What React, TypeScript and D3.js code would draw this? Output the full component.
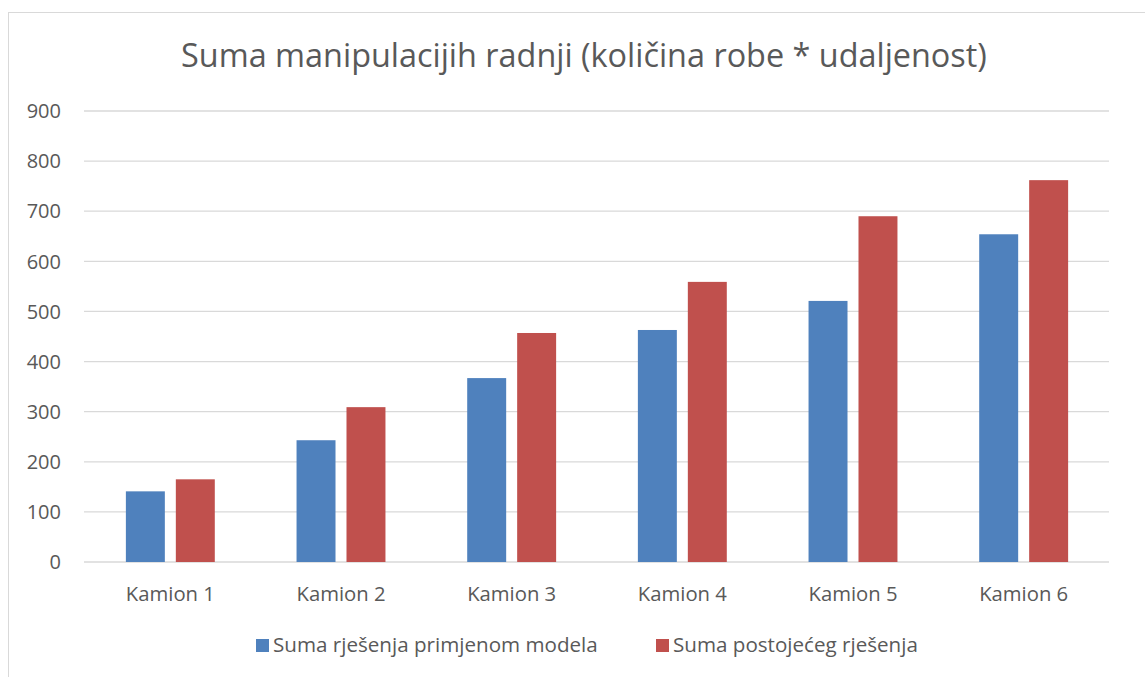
import React from "react";
import * as d3 from "d3";

const categories = ["Kamion 1", "Kamion 2", "Kamion 3", "Kamion 4", "Kamion 5", "Kamion 6"];
const seriesNames = ["Suma rješenja primjenom modela", "Suma postojećeg rješenja"];
const modelValues = [141, 243, 367, 463, 521, 654];
const existingValues = [165, 309, 457, 559, 690, 762];
const yTicks = [0, 100, 200, 300, 400, 500, 600, 700, 800, 900];
const colors = ["#4F81BD", "#C0504D"];

const W = 1145;
const H = 677;
const plot = { left: 85, right: 1109, top: 111, bottom: 562 };
const font = "'Open Sans', sans-serif";
const textColor = "#595959";

export default function App() {
  const series = [modelValues, existingValues];

  const x0 = d3
    .scaleBand<string>()
    .domain(categories)
    .range([plot.left, plot.right])
    .paddingInner(0.479)
    .paddingOuter(0.2395);

  const x1 = d3
    .scaleBand<number>()
    .domain([0, 1])
    .range([0, x0.bandwidth()])
    .paddingInner(0.22);

  const y = d3.scaleLinear().domain([0, 900]).range([plot.bottom, plot.top]);

  // legend swatch positions (x of each square)
  const legendX = [256, 656];

  return (
    <svg
      width={W}
      height={H}
      style={{ position: "absolute", left: 0, top: 0, background: "#fff" }}
    >
      {/* chart frame, cut off on the right and bottom */}
      <rect x={8.5} y={12.5} width={W} height={H} fill="#fff" stroke="#d9d9d9" />

      <text
        x={584}
        y={67}
        textAnchor="middle"
        fontFamily={font}
        fontSize={32.4}
        fill={textColor}
      >
        Suma manipulacijih radnji (količina robe * udaljenost)
      </text>

      {yTicks.map((t) => (
        <g key={t}>
          <line
            x1={plot.left - 1}
            x2={plot.right}
            y1={y(t)}
            y2={y(t)}
            stroke="#d9d9d9"
            strokeWidth={1.3}
          />
          <text
            x={61}
            y={y(t)}
            dy="0.36em"
            textAnchor="end"
            fontFamily={font}
            fontSize={20}
            fill={textColor}
          >
            {t}
          </text>
        </g>
      ))}

      {categories.map((c, i) => (
        <g key={c} transform={`translate(${x0(c)},0)`}>
          {series.map((vals, s) => (
            <rect
              key={s}
              x={x1(s)}
              y={y(vals[i])}
              width={x1.bandwidth()}
              height={y(0) - y(vals[i])}
              fill={colors[s]}
            />
          ))}
          <text
            x={x0.bandwidth() / 2}
            y={601}
            textAnchor="middle"
            fontFamily={font}
            fontSize={20.3}
            fill={textColor}
          >
            {c}
          </text>
        </g>
      ))}

      {seriesNames.map((name, s) => (
        <g key={name}>
          <rect x={legendX[s]} y={639} width={13} height={13} fill={colors[s]} />
          <text
            x={legendX[s] + 17}
            y={652}
            fontFamily={font}
            fontSize={20.6}
            fill={textColor}
          >
            {name}
          </text>
        </g>
      ))}
    </svg>
  );
}
